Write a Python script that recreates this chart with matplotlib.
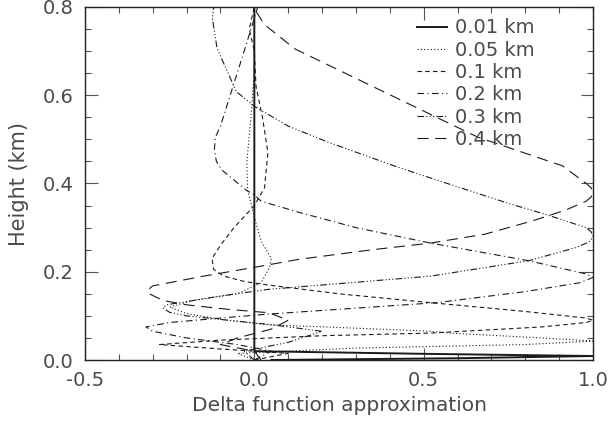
import matplotlib
matplotlib.use("Agg")
import matplotlib.pyplot as plt
from matplotlib.ticker import MultipleLocator

# ---- data ----
labels = ["0.01 km", "0.05 km", "0.1 km", "0.2 km", "0.3 km", "0.4 km"]

h001 = [0.0, 0.004, 0.009, 0.014, 0.02, 0.03, 0.8]
x001 = [0.05, 0.6, 1.0, 0.5, 0.0, 0.0, 0.0]

h005 = [0.0, 0.015, 0.027, 0.035, 0.043, 0.05, 0.06, 0.066, 0.08, 0.09, 0.105,
        0.12, 0.135, 0.15, 0.175, 0.21, 0.23, 0.27, 0.31, 0.385, 0.45, 0.55, 0.65, 0.8]
x005 = [0.0, -0.05, 0.3, 0.8, 1.0, 0.85, 0.6, 0.5, 0.04, -0.08, -0.2,
        -0.25, -0.18, -0.05, 0.02, 0.045, 0.05, 0.02, 0.005, -0.02, -0.022, -0.01, 0.0, 0.0]

h01 = [0.0, 0.015, 0.025, 0.035, 0.045, 0.055, 0.061, 0.075, 0.085, 0.09, 0.095,
       0.11, 0.13, 0.15, 0.17, 0.178, 0.19, 0.205, 0.23, 0.26, 0.30, 0.35, 0.39,
       0.47, 0.55, 0.62, 0.70, 0.75, 0.8]
x01 = [0.0, 0.1, -0.1, -0.28, -0.1, 0.2, 0.52, 0.85, 0.98, 1.0, 0.98,
       0.8, 0.52, 0.25, 0.04, -0.03, -0.09, -0.12, -0.125, -0.1, -0.06, 0.0, 0.03,
       0.04, 0.024, 0.005, 0.0, -0.015, 0.0]

h02 = [0.0, 0.02, 0.035, 0.05, 0.065, 0.075, 0.085, 0.095, 0.104, 0.13, 0.155,
       0.175, 0.187, 0.195, 0.225, 0.265, 0.30, 0.335, 0.36, 0.374, 0.385, 0.43,
       0.45, 0.477, 0.505, 0.53, 0.62, 0.70, 0.8]
x02 = [0.0, 0.05, -0.05, -0.2, -0.3, -0.32, -0.25, -0.1, 0.04, 0.54, 0.8,
       0.96, 1.0, 0.98, 0.81, 0.52, 0.3, 0.13, 0.02, 0.0, -0.024, -0.095,
       -0.112, -0.118, -0.115, -0.1, -0.063, -0.03, 0.01]

h03 = [0.0, 0.02, 0.04, 0.065, 0.08, 0.10, 0.108, 0.118, 0.125, 0.13, 0.145, 0.16,
       0.19, 0.225, 0.255, 0.268, 0.28, 0.29, 0.30, 0.33, 0.355, 0.413, 0.438,
       0.493, 0.53, 0.575, 0.608, 0.706, 0.775, 0.8]
x03 = [0.0, -0.03, 0.1, 0.2, 0.05, -0.2, -0.25, -0.27, -0.26, -0.22, -0.1, 0.04,
       0.52, 0.81, 0.95, 0.99, 1.0, 0.995, 0.98, 0.86, 0.75, 0.518, 0.42,
       0.22, 0.1, 0.0, -0.053, -0.11, -0.124, -0.12]

h04 = [0.0, 0.02, 0.035, 0.05, 0.07, 0.09, 0.107, 0.115, 0.125, 0.135, 0.15,
       0.158, 0.168, 0.19, 0.21, 0.228, 0.25, 0.265, 0.285, 0.315, 0.34, 0.36,
       0.37, 0.38, 0.39, 0.40, 0.44, 0.505, 0.59, 0.705, 0.76, 0.79, 0.8]
x04 = [0.02, 0.0, -0.1, -0.05, 0.05, 0.1, 0.044, -0.08, -0.2, -0.27, -0.31,
       -0.315, -0.30, -0.15, 0.0, 0.13, 0.35, 0.52, 0.68, 0.82, 0.92, 0.98,
       0.995, 1.0, 0.995, 0.98, 0.91, 0.66, 0.43, 0.12, 0.03, 0.005, 0.0]

series = [(x001, h001), (x005, h005), (x01, h01), (x02, h02), (x03, h03), (x04, h04)]
styles = ["-", (0, (1, 2)), (0, (4, 3)), (0, (6, 3, 1, 3)),
          (0, (6, 2, 1, 2, 1, 2, 1, 2)), (0, (10, 6))]
widths = [1.4, 0.8, 0.8, 0.8, 0.8, 0.8]

txt = "#4a4a4a"
plt.rcParams["font.family"] = ["DejaVu Sans"]

fig = plt.figure(figsize=(6.08, 4.25), dpi=100)
ax = fig.add_axes([85 / 608, 1 - 360 / 425, (593 - 85) / 608, (360 - 7) / 425])

for (xs, hs), ls, lw, lab in zip(series, styles, widths, labels):
    ax.plot(xs, hs, color="#1a1a1a", linestyle=ls, linewidth=lw, label=lab)

ax.set_xlim(-0.5, 1.0)
ax.set_ylim(0.0, 0.8)
ax.xaxis.set_major_locator(MultipleLocator(0.5))
ax.xaxis.set_minor_locator(MultipleLocator(0.1))
ax.yaxis.set_major_locator(MultipleLocator(0.2))
ax.yaxis.set_minor_locator(MultipleLocator(0.05))
ax.xaxis.set_major_formatter(plt.FuncFormatter(lambda v, p: f"{v:.1f}"))
ax.yaxis.set_major_formatter(plt.FuncFormatter(lambda v, p: f"{v:.1f}"))
ax.tick_params(which="both", direction="in", top=True, right=True,
               colors="#555555", labelcolor=txt, labelsize=14)
ax.tick_params(which="major", length=9, width=0.8, pad=8)
ax.tick_params(which="minor", length=4.5, width=0.8)
for s in ax.spines.values():
    s.set_linewidth(1.0)
    s.set_color("#222222")

ax.set_xlabel("Delta function approximation", fontsize=14.5, color=txt, labelpad=4)
ax.set_ylabel("Height (km)", fontsize=15, color=txt, labelpad=10)

leg = ax.legend(loc="upper left", bbox_to_anchor=(0.638, 0.99), frameon=False,
                fontsize=14, handlelength=1.55, handletextpad=0.4,
                labelspacing=0.17, borderaxespad=0.0)
for t in leg.get_texts():
    t.set_color(txt)

fig.savefig("out.png", dpi=100)
